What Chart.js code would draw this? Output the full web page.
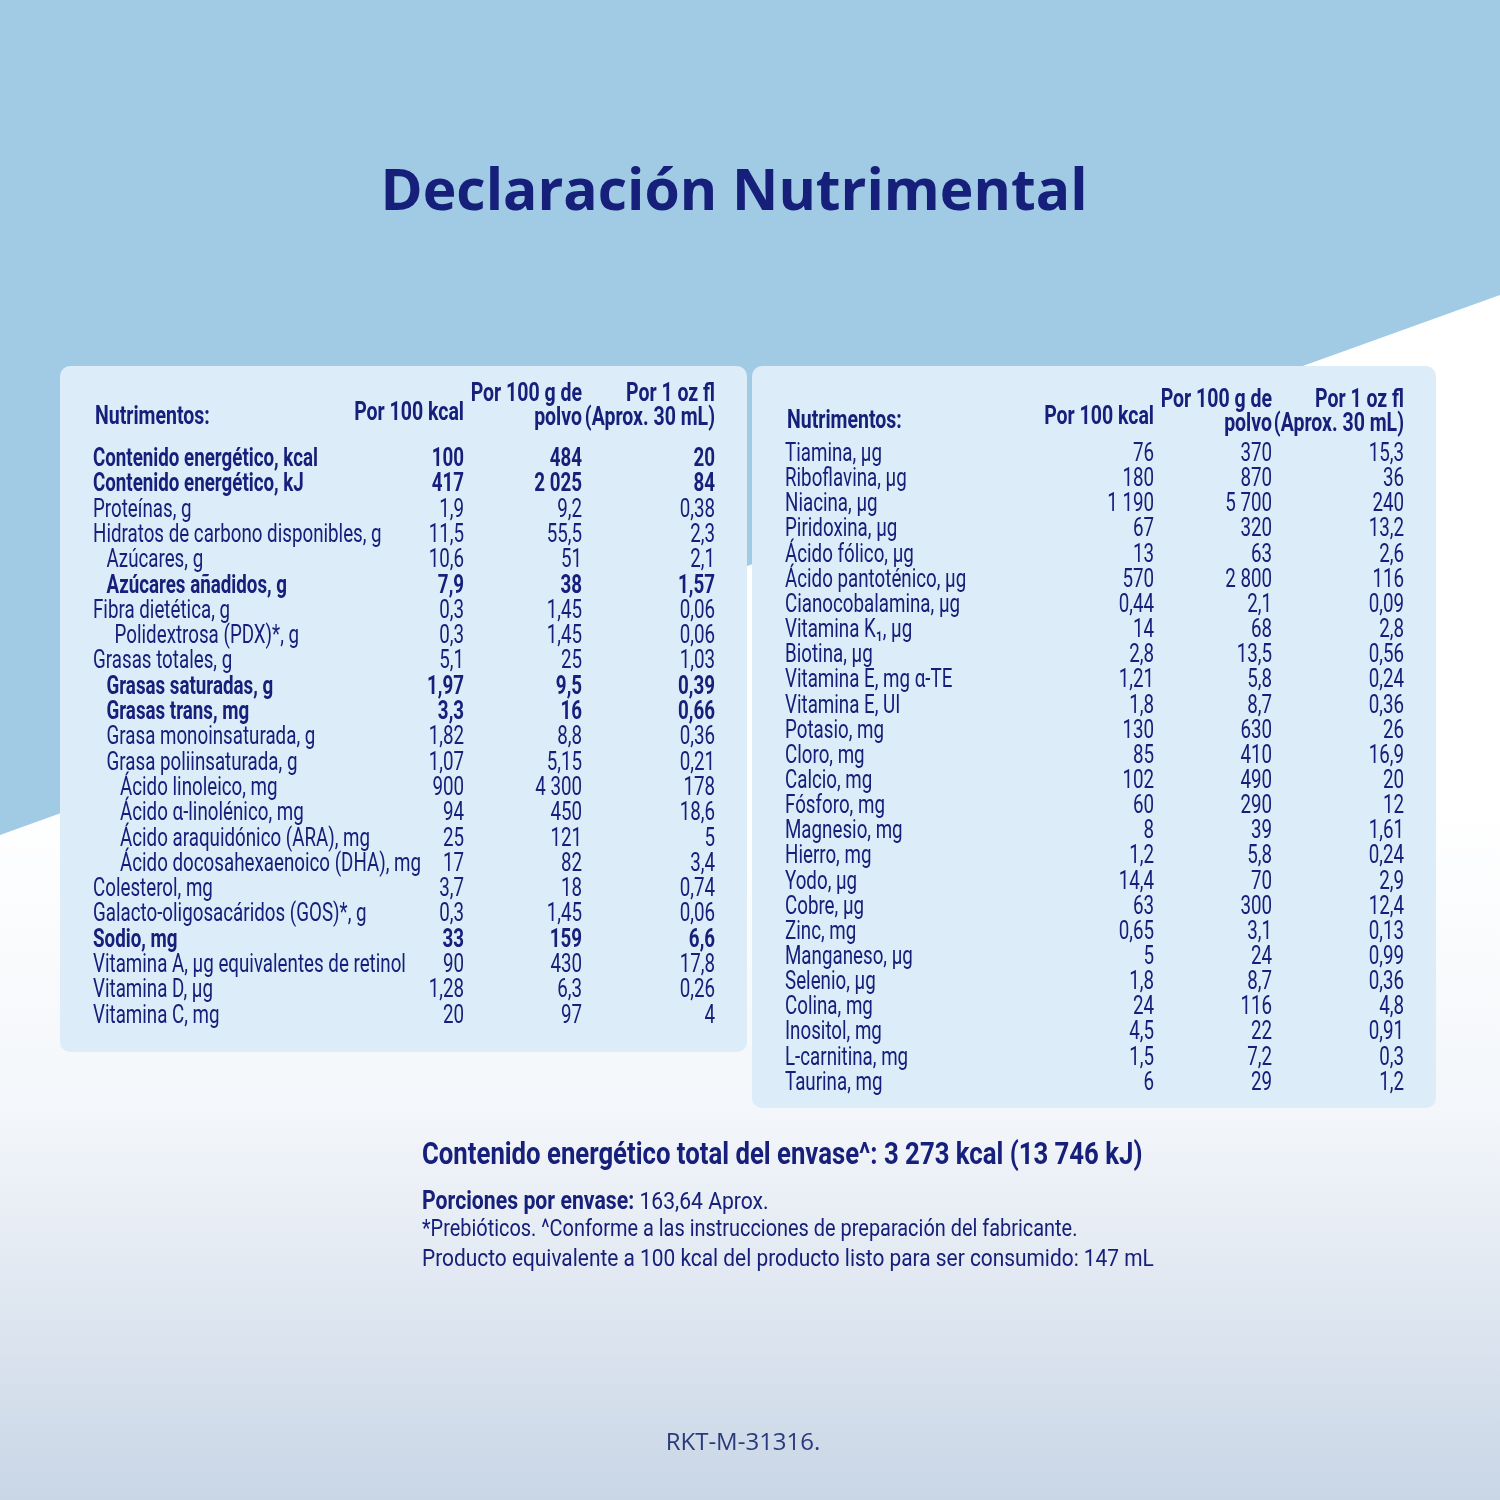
<!DOCTYPE html>
<html><head><meta charset="utf-8">
<script src="https://cdn.jsdelivr.net/npm/chart.js@4"></script>
<style>html,body{margin:0;padding:0;background:#fff}canvas{display:block}</style>
</head><body>
<canvas id="c" width="1500" height="1500"></canvas>
<script>
const title = "Declaración Nutrimental";
const colHeaders = [["Por 100 kcal"],["Por 100 g de","polvo"],["Por 1 oz fl","(Aprox. 30 mL)"]];
const leftLabels = ["Contenido energético, kcal","Contenido energético, kJ","Proteínas, g","Hidratos de carbono disponibles, g","Azúcares, g","Azúcares añadidos, g","Fibra dietética, g","Polidextrosa (PDX)*, g","Grasas totales, g","Grasas saturadas, g","Grasas trans, mg","Grasa monoinsaturada, g","Grasa poliinsaturada, g","Ácido linoleico, mg","Ácido α-linolénico, mg","Ácido araquidónico (ARA), mg","Ácido docosahexaenoico (DHA), mg","Colesterol, mg","Galacto-oligosacáridos (GOS)*, g","Sodio, mg","Vitamina A, µg equivalentes de retinol","Vitamina D, µg","Vitamina C, mg"];
const leftIndent = [0,0,0,0,1,1,0,1.6,0,1,1,1,1,2,2,2,2,0,0,0,0,0,0];
const leftBold = [1,1,0,0,0,1,0,0,0,1,1,0,0,0,0,0,0,0,0,1,0,0,0];
const leftPer100kcal = ["100","417","1,9","11,5","10,6","7,9","0,3","0,3","5,1","1,97","3,3","1,82","1,07","900","94","25","17","3,7","0,3","33","90","1,28","20"];
const leftPer100g = ["484","2 025","9,2","55,5","51","38","1,45","1,45","25","9,5","16","8,8","5,15","4 300","450","121","82","18","1,45","159","430","6,3","97"];
const leftPerOz = ["20","84","0,38","2,3","2,1","1,57","0,06","0,06","1,03","0,39","0,66","0,36","0,21","178","18,6","5","3,4","0,74","0,06","6,6","17,8","0,26","4"];
const rightLabels = ["Tiamina, µg","Riboflavina, µg","Niacina, µg","Piridoxina, µg","Ácido fólico, µg","Ácido pantoténico, µg","Cianocobalamina, µg","Vitamina K₁, µg","Biotina, µg","Vitamina E, mg α-TE","Vitamina E, UI","Potasio, mg","Cloro, mg","Calcio, mg","Fósforo, mg","Magnesio, mg","Hierro, mg","Yodo, µg","Cobre, µg","Zinc, mg","Manganeso, µg","Selenio, µg","Colina, mg","Inositol, mg","L-carnitina, mg","Taurina, mg"];
const rightPer100kcal = ["76","180","1 190","67","13","570","0,44","14","2,8","1,21","1,8","130","85","102","60","8","1,2","14,4","63","0,65","5","1,8","24","4,5","1,5","6"];
const rightPer100g = ["370","870","5 700","320","63","2 800","2,1","68","13,5","5,8","8,7","630","410","490","290","39","5,8","70","300","3,1","24","8,7","116","22","7,2","29"];
const rightPerOz = ["15,3","36","240","13,2","2,6","116","0,09","2,8","0,56","0,24","0,36","26","16,9","20","12","1,61","0,24","2,9","12,4","0,13","0,99","0,36","4,8","0,91","0,3","1,2"];
const footerTotal = "Contenido energético total del envase^: 3 273 kcal (13 746 kJ)";
const footerPorcB = "Porciones por envase:", footerPorc = " 163,64 Aprox.";
const footerPre = "*Prebióticos. ^Conforme a las instrucciones de preparación del fabricante.";
const footerEq = "Producto equivalente a 100 kcal del producto listo para ser consumido: 147 mL";
const code = "RKT-M-31316.";

const NAVY = "#16207a";
const FONT = '"Roboto", "Liberation Sans", sans-serif';
function rr(ctx,x,y,w,h,r){ctx.beginPath();ctx.moveTo(x+r,y);ctx.arcTo(x+w,y,x+w,y+h,r);ctx.arcTo(x+w,y+h,x,y+h,r);ctx.arcTo(x,y+h,x,y,r);ctx.arcTo(x,y,x+w,y,r);ctx.closePath();}
// draw text compressed horizontally by factor s, anchored per textAlign
function txt(ctx,t,x,y,s){ctx.save();ctx.translate(x,y);ctx.scale(s,1);ctx.fillText(t,0,0);ctx.restore();}

const tablePlugin = {
  id:'table',
  beforeDraw(chart){
    const ctx = chart.ctx;
    const g = ctx.createLinearGradient(0,800,0,1500);
    g.addColorStop(0,"#ffffff"); g.addColorStop(0.45,"#f3f6fa"); g.addColorStop(1,"#c9d6e6");
    ctx.fillStyle=g; ctx.fillRect(0,0,1500,1500);
    ctx.fillStyle="#a1cbe5"; ctx.beginPath(); ctx.moveTo(0,0); ctx.lineTo(1500,0); ctx.lineTo(1500,295); ctx.lineTo(0,835); ctx.closePath(); ctx.fill();
  },
  afterDraw(chart){
    const ctx = chart.ctx, X = chart.scales.x, Y = chart.scales.y;
    const px = v=>X.getPixelForValue(v), py = v=>Y.getPixelForValue(v);
    const S = 0.75;
    ctx.save();
    ctx.fillStyle=NAVY; ctx.textBaseline="alphabetic";
    ctx.font='bold 57px "Open Sans", "DejaVu Sans", sans-serif'; ctx.textAlign="center";
    ctx.fillText(title, px(734), py(210));
    ctx.fillStyle="#dcedf9";
    rr(ctx,px(60),py(366),687,686,10); ctx.fill();
    rr(ctx,px(752),py(366),684,742,10); ctx.fill();
    function table(x0, cols, hdrY, hdrTop, rowY0, step, labels, indent, bold, vals){
      ctx.fillStyle=NAVY;
      ctx.font='bold 26px '+FONT; ctx.textAlign="left";
      txt(ctx,"Nutrimentos:", px(x0+2), py(hdrY), S);
      ctx.textAlign="right";
      colHeaders.forEach((h,c)=>{
        h.forEach((line,k)=>{
          const yy = h.length===1 ? hdrY-4 : hdrTop + k*24;
          txt(ctx,line, px(cols[c]), py(yy), S);
        });
      });
      labels.forEach((lab,i)=>{
        const y = rowY0 + i*step;
        const b = bold && bold[i];
        ctx.font=(b?'bold ':'')+'25px '+FONT;
        ctx.textAlign="left";
        txt(ctx,lab, px(x0 + (indent?indent[i]:0)*13.5), py(y), S);
        ctx.textAlign="right";
        vals.forEach((arr,c)=>txt(ctx,arr[i], px(cols[c]), py(y), S));
      });
    }
    table(93,[464,582,715],424,401,466,25.3,leftLabels,leftIndent,leftBold,[leftPer100kcal,leftPer100g,leftPerOz]);
    table(785,[1154,1272,1404],428,407,461,25.15,rightLabels,null,null,[rightPer100kcal,rightPer100g,rightPerOz]);
    ctx.textAlign="left"; ctx.fillStyle=NAVY;
    ctx.font='bold 31px '+FONT; txt(ctx,footerTotal, px(422), py(1164), 0.83);
    ctx.font='bold 25px '+FONT; txt(ctx,footerPorcB, px(422), py(1209), 0.85);
    const w = ctx.measureText(footerPorcB).width*0.85;
    ctx.font='24px '+FONT; txt(ctx,footerPorc, px(422)+w, py(1209), 0.88);
    txt(ctx,footerPre, px(422), py(1236), 0.83);
    txt(ctx,footerEq, px(422), py(1266), 0.87);
    ctx.textAlign="center"; ctx.fillStyle="#2b3a7a";
    ctx.font='24px "Open Sans", "DejaVu Sans", sans-serif'; ctx.fillText(code, px(743), py(1450));
    ctx.restore();
  }
};

new Chart(document.getElementById('c'),{
  type:'scatter',
  data:{datasets:[{data:[],pointRadius:0}]},
  options:{responsive:false,devicePixelRatio:1,animation:false,
    layout:{padding:0},
    plugins:{legend:{display:false},tooltip:{enabled:false}},
    scales:{x:{type:'linear',min:0,max:1500,display:false},y:{type:'linear',min:0,max:1500,reverse:true,display:false}}},
  plugins:[tablePlugin]
});
</script>
</body></html>
